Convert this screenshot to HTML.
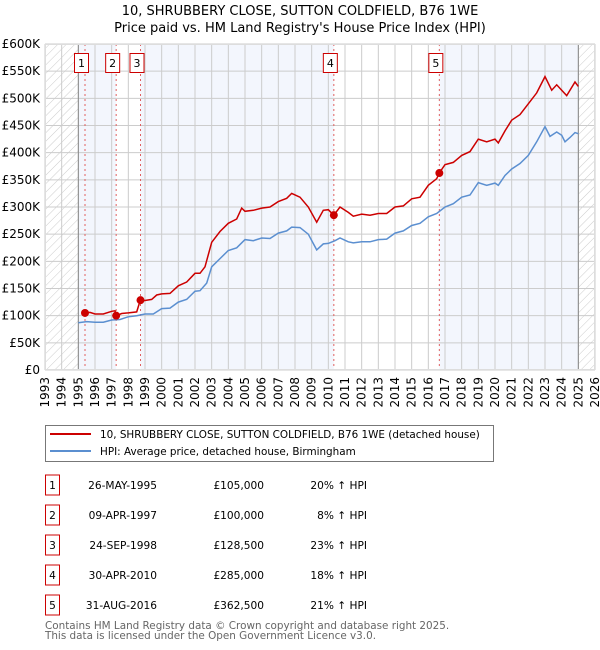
<!DOCTYPE html>
<html><head><meta charset="utf-8"><style>
body{margin:0;background:#fff;font-family:"DejaVu Sans","Liberation Sans",sans-serif;}
svg{display:block}
</style></head><body>
<svg id="c" width="600" height="650" xmlns="http://www.w3.org/2000/svg" font-family="DejaVu Sans, Liberation Sans, sans-serif">
<defs><pattern id="hatch" width="6" height="6" patternUnits="userSpaceOnUse" patternTransform="rotate(45)"><line x1="0" y1="0" x2="0" y2="6" stroke="#ccc" stroke-width="1"/></pattern></defs>
<text x="300" y="15" text-anchor="middle" font-size="13">10, SHRUBBERY CLOSE, SUTTON COLDFIELD, B76 1WE</text>
<text x="300" y="32" text-anchor="middle" font-size="13">Price paid vs. HM Land Registry's House Price Index (HPI)</text>
<g id="plot"></g>
<g>
<rect x="45.5" y="425.5" width="448" height="36" fill="#fff" stroke="#777"/>
<line x1="50" y1="434" x2="91" y2="434" stroke="#cc0000" stroke-width="2"/>
<text x="100" y="438" font-size="10.4">10, SHRUBBERY CLOSE, SUTTON COLDFIELD, B76 1WE (detached house)</text>
<line x1="50" y1="451" x2="91" y2="451" stroke="#5b8fd0" stroke-width="2"/>
<text x="100" y="455" font-size="10.4">HPI: Average price, detached house, Birmingham</text>
</g>
<g id="table" font-size="10.6"></g>
<text x="45" y="629" font-size="10.4" fill="#666">Contains HM Land Registry data © Crown copyright and database right 2025.</text>
<text x="45" y="639" font-size="10.4" fill="#666">This data is licensed under the Open Government Licence v3.0.</text>
</svg>
<script>
const yTicks=[0,50000,100000,150000,200000,250000,300000,350000,400000,450000,500000,550000,600000];
const yTickLabels=["£0","£50K","£100K","£150K","£200K","£250K","£300K","£350K","£400K","£450K","£500K","£550K","£600K"];
const xYears=[1993,1994,1995,1996,1997,1998,1999,2000,2001,2002,2003,2004,2005,2006,2007,2008,2009,2010,2011,2012,2013,2014,2015,2016,2017,2018,2019,2020,2021,2022,2023,2024,2025,2026];
const hpiT=[1995,1995.5,1996,1996.5,1997,1997.5,1998,1998.5,1999,1999.5,2000,2000.5,2001,2001.5,2002,2002.3,2002.7,2003,2003.5,2004,2004.5,2005,2005.5,2006,2006.5,2007,2007.5,2007.8,2008.3,2008.8,2009.3,2009.7,2010,2010.4,2010.7,2011.2,2011.5,2012,2012.5,2013,2013.5,2014,2014.5,2015,2015.5,2016,2016.5,2017,2017.5,2018,2018.5,2019,2019.5,2020,2020.2,2020.6,2021,2021.5,2022,2022.5,2023,2023.3,2023.7,2024,2024.2,2024.5,2024.8,2025];
const hpiV=[87000,89000,88000,88000,92000,93000,98000,100000,103000,103000,113000,114000,125000,130000,145000,146000,160000,190000,205000,220000,225000,240000,238000,243000,242000,252000,256000,263000,262000,250000,221000,232000,233000,238000,243000,236000,234000,236000,236000,240000,241000,252000,256000,266000,270000,282000,288000,300000,306000,318000,322000,345000,340000,344000,340000,358000,370000,380000,395000,420000,448000,430000,438000,432000,420000,428000,437000,435000];
const redT=[1995.4,1995.7,1996,1996.5,1997,1997.2,1997.27,1997.6,1998,1998.5,1998.72,1999,1999.4,1999.7,2000,2000.5,2001,2001.5,2002,2002.3,2002.6,2003,2003.5,2004,2004.5,2004.8,2005,2005.5,2006,2006.5,2007,2007.5,2007.8,2008.3,2008.8,2009.3,2009.7,2010,2010.33,2010.7,2011.2,2011.5,2012,2012.5,2013,2013.5,2014,2014.5,2015,2015.5,2016,2016.5,2016.66,2017,2017.5,2018,2018.5,2019,2019.5,2020,2020.2,2020.6,2021,2021.5,2022,2022.5,2023,2023.4,2023.7,2024,2024.3,2024.8,2025];
const redV=[105000,106000,103000,103000,108000,109000,100000,104000,105000,107000,128500,128000,130000,138000,140000,141000,155000,162000,178000,178000,190000,235000,255000,270000,278000,298000,292000,294000,298000,300000,310000,316000,325000,318000,300000,272000,294000,295000,285000,300000,290000,283000,287000,285000,288000,288000,300000,302000,315000,318000,340000,352000,362500,378000,382000,395000,402000,425000,420000,425000,418000,440000,460000,470000,490000,510000,540000,515000,525000,515000,505000,530000,522000];
const saleT=[1995.4,1997.27,1998.73,2010.33,2016.66];
const saleV=[105000,100000,128500,285000,362500];
const saleLabels=["1","2","3","4","5"];
const saleDates=["26-MAY-1995","09-APR-1997","24-SEP-1998","30-APR-2010","31-AUG-2016"];
const salePrices=["£105,000","£100,000","£128,500","£285,000","£362,500"];
const salePct=["20% ↑ HPI","8% ↑ HPI","23% ↑ HPI","18% ↑ HPI","21% ↑ HPI"];

const NS="http://www.w3.org/2000/svg";
const X0=45,X1=595,Y0=370,Y1=44;
const xs=t=>X0+(t-1993)/(2026-1993)*(X1-X0);
const ys=v=>Y0-v/600000*(Y0-Y1);
const plot=document.getElementById('plot');
function mk(tag,attrs,parent){const e=document.createElementNS(NS,tag);for(const k in attrs)e.setAttribute(k,attrs[k]);(parent||plot).appendChild(e);return e;}

let bg=mk('rect',{x:X0,y:Y1,width:X1-X0,height:Y0-Y1,fill:'#fff'});


const bands=[[1995,saleT[0]],[saleT[0],saleT[1]],[saleT[2],saleT[3]],[saleT[4],2025]];
bands.forEach(b=>{const r=mk('rect',{x:xs(b[0]),y:Y1,width:xs(b[1])-xs(b[0]),height:Y0-Y1,fill:'#f3f6fd'});

});
let h1=mk('rect',{x:X0,y:Y1,width:xs(1995)-X0,height:Y0-Y1,fill:'url(#hatch)'});


let h2=mk('rect',{x:xs(2025),y:Y1,width:X1-xs(2025),height:Y0-Y1,fill:'url(#hatch)'});


xYears.forEach(y=>{const l=mk('line',{x1:xs(y),x2:xs(y),y1:Y1,y2:Y0,stroke:'#ccc','stroke-width':1});


const t=mk('text',{x:0,y:0,transform:`translate(${xs(y)+4},377) rotate(-90)`,'text-anchor':'end','font-size':12});
t.textContent=y;

});
yTicks.forEach((v,i)=>{const l=mk('line',{x1:X0,x2:X1,y1:ys(v),y2:ys(v),stroke:'#ccc','stroke-width':1});


const t=mk('text',{x:40,y:ys(v)+4,'text-anchor':'end','font-size':12});
t.textContent=yTickLabels[i];

});
[1995,2025].forEach(y=>{const l=mk('line',{x1:xs(y),x2:xs(y),y1:Y1,y2:Y0,stroke:'#888','stroke-width':1});

});
saleT.forEach((t,i)=>{const l=mk('line',{x1:xs(t),x2:xs(t),y1:Y1,y2:Y0,stroke:'#e06060','stroke-width':1,'stroke-dasharray':'2,3'});


const r=mk('rect',{x:xs(t)-10.5,y:53.5,width:14,height:19,fill:'#fff',stroke:'#cc0000'});


const tx=mk('text',{x:xs(t)-3.5,y:67,'text-anchor':'middle','font-size':11});
tx.textContent=saleLabels[i];

});
const pts=(T,V)=>T.map((t,i)=>xs(t).toFixed(1)+','+ys(V[i]).toFixed(1)).join(' ');
let hl=mk('polyline',{points:pts(hpiT,hpiV),fill:'none',stroke:'#5b8fd0','stroke-width':1.5});


let rl=mk('polyline',{points:pts(redT,redV),fill:'none',stroke:'#cc0000','stroke-width':1.5});


saleT.forEach((t,i)=>{const c=mk('circle',{cx:xs(t),cy:ys(saleV[i]),r:4,fill:'#cc0000'});

});
let fr=mk('rect',{x:X0+0.5,y:Y1+0.5,width:X1-X0-1,height:Y0-Y1-1,fill:'none',stroke:'#ddd'});


const tb=document.getElementById('table');
saleT.forEach((t,i)=>{const y=485+i*30;
const r=mk('rect',{x:45.5,y:y-10,width:14,height:20,fill:'#fff',stroke:'#cc0000'},tb);


const a=mk('text',{x:52.5,y:y+4,'text-anchor':'middle'},tb);a.textContent=saleLabels[i];


const d=mk('text',{x:157,y:y+4,'text-anchor':'end'},tb);d.textContent=saleDates[i];


const p=mk('text',{x:264,y:y+4,'text-anchor':'end'},tb);p.textContent=salePrices[i];


const q=mk('text',{x:367,y:y+4,'text-anchor':'end'},tb);q.textContent=salePct[i];

});
</script>
</body></html>
